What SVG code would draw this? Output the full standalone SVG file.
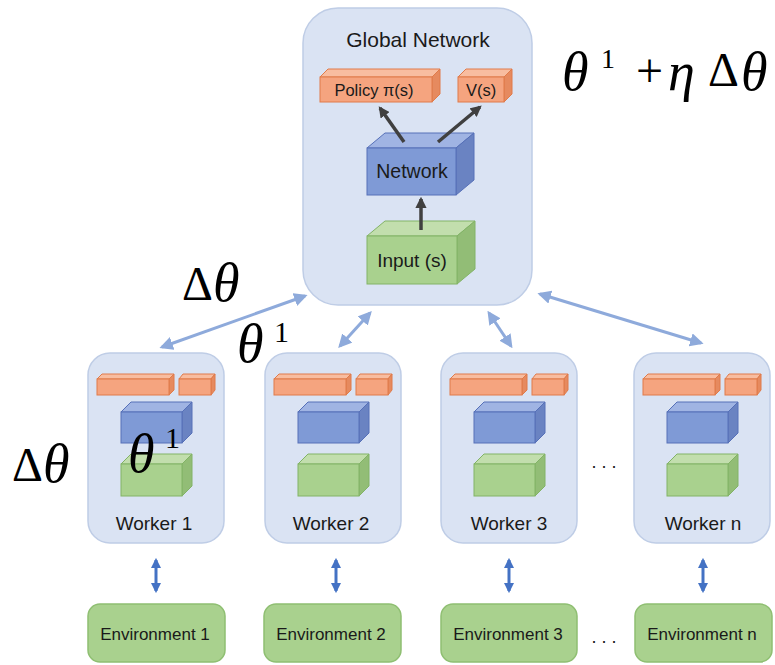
<svg xmlns="http://www.w3.org/2000/svg" width="775" height="665" viewBox="0 0 775 665">
<defs>
<style>
.cont{fill:#dae3f3;stroke:#bfcde6;stroke-width:1.5}
.env{fill:#a9d18e;stroke:#8fbf72;stroke-width:1.5}
.of{fill:#f5a47f;stroke:#e07b4a;stroke-width:1}
.ot{fill:#f8bda0;stroke:#e07b4a;stroke-width:1}
.os{fill:#e68a5f;stroke:#e07b4a;stroke-width:1}
.bf{fill:#7f9ad6;stroke:#5670b8;stroke-width:1}
.bt{fill:#a0b4e3;stroke:#5670b8;stroke-width:1}
.bs{fill:#6a83c2;stroke:#5670b8;stroke-width:1}
.gf{fill:#a9d18e;stroke:#82b366;stroke-width:1}
.gt{fill:#c2dead;stroke:#82b366;stroke-width:1}
.gs{fill:#92bd76;stroke:#82b366;stroke-width:1}
.lbl{font-family:"Liberation Sans",Arial,sans-serif;fill:#1a1a1a;text-anchor:middle}
.math{font-family:"Liberation Serif","DejaVu Serif",serif;fill:#000}
.it{font-style:italic}
.wc{stroke:#8eaadb;stroke-width:3;fill:none;marker-start:url(#ha);marker-end:url(#ha)}
.ec{stroke:#4472c4;stroke-width:3;fill:none;marker-start:url(#hb);marker-end:url(#hb)}
.nc{stroke:#404040;stroke-width:3.5;fill:none;marker-end:url(#hc)}
</style>
<marker id="ha" viewBox="0 0 10 10" refX="8" refY="5" markerWidth="4.5" markerHeight="4.5" orient="auto-start-reverse" markerUnits="strokeWidth"><path d="M0,0 L10,5 L0,10 z" fill="#8eaadb"/></marker>
<marker id="hb" viewBox="0 0 10 10" refX="8" refY="5" markerWidth="3.5" markerHeight="3.5" orient="auto-start-reverse" markerUnits="strokeWidth"><path d="M0,0 L10,5 L0,10 z" fill="#4472c4"/></marker>
<marker id="hc" viewBox="0 0 10 10" refX="8" refY="5" markerWidth="3.2" markerHeight="3.2" orient="auto" markerUnits="strokeWidth"><path d="M0,0 L10,5 L0,10 z" fill="#404040"/></marker>
</defs>

<g id="global-network">
<rect class="cont" x="303" y="8" width="229" height="297" rx="35"/>
<text class="lbl" x="418" y="47" font-size="21">Global Network</text>
<g id="policy">
<polygon class="ot" points="320,77 328,69 440,69 432,77"/>
<polygon class="os" points="432,77 440,69 440,94 432,102"/>
<rect class="of" x="320" y="77" width="112" height="25"/>
<text class="lbl" x="374" y="96" font-size="16.5">Policy π(s)</text>
</g>
<g id="value">
<polygon class="ot" points="458,77 466,69 512,69 504,77"/>
<polygon class="os" points="504,77 512,69 512,94 504,102"/>
<rect class="of" x="458" y="77" width="46" height="25"/>
<text class="lbl" x="481" y="96" font-size="16.5">V(s)</text>
</g>
<g id="network">
<polygon class="bt" points="367,148 385,133 474,133 456,148"/>
<polygon class="bs" points="456,148 474,133 474,180 456,195"/>
<rect class="bf" x="367" y="148" width="89" height="47"/>
<text class="lbl" x="412" y="178" font-size="19.5">Network</text>
</g>
<g id="input">
<polygon class="gt" points="367,236 385,221 475,221 457,236"/>
<polygon class="gs" points="457,236 475,221 475,269 457,284"/>
<rect class="gf" x="367" y="236" width="90" height="48"/>
<text class="lbl" x="412" y="267" font-size="19">Input (s)</text>
</g>
</g>

<g id="worker-1" transform="translate(88,0)">
<rect class="cont" x="0" y="353" width="136" height="190" rx="22"/>
<polygon class="ot" points="9,379 14,374 86,374 81,379"/><polygon class="os" points="81,379 86,374 86,390 81,395"/><rect class="of" x="9" y="379" width="72" height="16"/>
<polygon class="ot" points="91,379 95,374 127,374 123,379"/><polygon class="os" points="123,379 127,374 127,390 123,395"/><rect class="of" x="91" y="379" width="32" height="16"/>
<polygon class="bt" points="33,412 43,402 104,402 94,412"/><polygon class="bs" points="94,412 104,402 104,433 94,443"/><rect class="bf" x="33" y="412" width="61" height="31"/>
<polygon class="gt" points="33,464 43,454 104,454 94,464"/><polygon class="gs" points="94,464 104,454 104,486 94,496"/><rect class="gf" x="33" y="464" width="61" height="32"/>
<text class="lbl" x="66" y="530" font-size="19">Worker 1</text>
</g>
<g id="worker-2" transform="translate(265,0)">
<rect class="cont" x="0" y="353" width="136" height="190" rx="22"/>
<polygon class="ot" points="9,379 14,374 86,374 81,379"/><polygon class="os" points="81,379 86,374 86,390 81,395"/><rect class="of" x="9" y="379" width="72" height="16"/>
<polygon class="ot" points="91,379 95,374 127,374 123,379"/><polygon class="os" points="123,379 127,374 127,390 123,395"/><rect class="of" x="91" y="379" width="32" height="16"/>
<polygon class="bt" points="33,412 43,402 104,402 94,412"/><polygon class="bs" points="94,412 104,402 104,433 94,443"/><rect class="bf" x="33" y="412" width="61" height="31"/>
<polygon class="gt" points="33,464 43,454 104,454 94,464"/><polygon class="gs" points="94,464 104,454 104,486 94,496"/><rect class="gf" x="33" y="464" width="61" height="32"/>
<text class="lbl" x="66" y="530" font-size="19">Worker 2</text>
</g>
<g id="worker-3" transform="translate(441,0)">
<rect class="cont" x="0" y="353" width="136" height="190" rx="22"/>
<polygon class="ot" points="9,379 14,374 86,374 81,379"/><polygon class="os" points="81,379 86,374 86,390 81,395"/><rect class="of" x="9" y="379" width="72" height="16"/>
<polygon class="ot" points="91,379 95,374 127,374 123,379"/><polygon class="os" points="123,379 127,374 127,390 123,395"/><rect class="of" x="91" y="379" width="32" height="16"/>
<polygon class="bt" points="33,412 43,402 104,402 94,412"/><polygon class="bs" points="94,412 104,402 104,433 94,443"/><rect class="bf" x="33" y="412" width="61" height="31"/>
<polygon class="gt" points="33,464 43,454 104,454 94,464"/><polygon class="gs" points="94,464 104,454 104,486 94,496"/><rect class="gf" x="33" y="464" width="61" height="32"/>
<text class="lbl" x="68" y="530" font-size="19">Worker 3</text>
</g>
<g id="worker-n" transform="translate(634,0)">
<rect class="cont" x="0" y="353" width="136" height="190" rx="22"/>
<polygon class="ot" points="9,379 14,374 86,374 81,379"/><polygon class="os" points="81,379 86,374 86,390 81,395"/><rect class="of" x="9" y="379" width="72" height="16"/>
<polygon class="ot" points="91,379 95,374 127,374 123,379"/><polygon class="os" points="123,379 127,374 127,390 123,395"/><rect class="of" x="91" y="379" width="32" height="16"/>
<polygon class="bt" points="33,412 43,402 104,402 94,412"/><polygon class="bs" points="94,412 104,402 104,433 94,443"/><rect class="bf" x="33" y="412" width="61" height="31"/>
<polygon class="gt" points="33,464 43,454 104,454 94,464"/><polygon class="gs" points="94,464 104,454 104,486 94,496"/><rect class="gf" x="33" y="464" width="61" height="32"/>
<text class="lbl" x="69" y="530" font-size="19">Worker n</text>
</g>

<g id="env-1"><rect class="env" x="88" y="604" width="137" height="58" rx="12"/><text class="lbl" x="155" y="640" font-size="17">Environment 1</text></g>
<g id="env-2"><rect class="env" x="264" y="604" width="137" height="58" rx="12"/><text class="lbl" x="331" y="640" font-size="17">Environment 2</text></g>
<g id="env-3"><rect class="env" x="441" y="604" width="136" height="58" rx="12"/><text class="lbl" x="508" y="640" font-size="17">Environment 3</text></g>
<g id="env-n"><rect class="env" x="635" y="604" width="137" height="58" rx="12"/><text class="lbl" x="702" y="640" font-size="17">Environment n</text></g>

<g id="connectors">
<line class="nc" x1="404" y1="142" x2="380" y2="108"/>
<line class="nc" x1="438" y1="142" x2="480" y2="107"/>
<line class="nc" x1="421" y1="230" x2="421" y2="199"/>
<line class="wc" x1="305" y1="296" x2="162" y2="347"/>
<line class="wc" x1="370" y1="313" x2="340" y2="346"/>
<line class="wc" x1="489" y1="313" x2="511" y2="346"/>
<line class="wc" x1="540" y1="294" x2="701" y2="343"/>
<line class="ec" x1="156" y1="560" x2="156" y2="591"/>
<line class="ec" x1="336" y1="560" x2="336" y2="591"/>
<line class="ec" x1="509" y1="560" x2="509" y2="591"/>
<line class="ec" x1="703" y1="560" x2="703" y2="591"/>
</g>

<g id="ellipses" class="lbl" font-size="18">
<text x="604" y="468">. . .</text>
<text x="604" y="643">. . .</text>
</g>

<g id="math">
<text class="math" font-size="48"><tspan class="it" font-size="54" x="562" y="90">θ</tspan><tspan font-size="28" x="601" y="68">1</tspan><tspan x="636" y="87">+</tspan><tspan class="it" font-size="54" x="668" y="90">η</tspan><tspan x="708" y="86">Δ</tspan><tspan class="it" font-size="54" x="741" y="90">θ</tspan></text>
<text class="math" font-size="48"><tspan x="182" y="300">Δ</tspan><tspan class="it" font-size="54" x="213" y="301">θ</tspan></text>
<text class="math" font-size="48"><tspan class="it" font-size="54" x="237" y="362">θ</tspan><tspan font-size="30" x="274" y="342">1</tspan></text>
<text class="math" font-size="48"><tspan class="it" font-size="54" x="128" y="472">θ</tspan><tspan font-size="30" x="165" y="448">1</tspan></text>
<text class="math" font-size="48"><tspan x="12" y="481">Δ</tspan><tspan class="it" font-size="54" x="43" y="482">θ</tspan></text>
</g>
</svg>
